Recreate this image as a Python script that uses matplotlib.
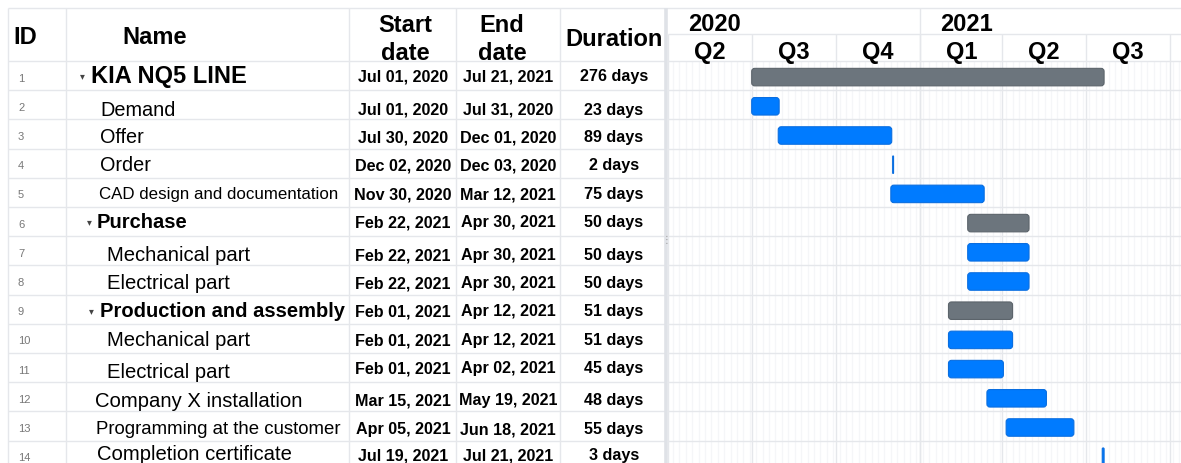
import numpy as np
import pandas as pd
import matplotlib
matplotlib.use("Agg")
import matplotlib.pyplot as plt
import matplotlib.dates as mdates
from matplotlib.patches import FancyBboxPatch

plt.rcParams['font.family'] = ['Liberation Sans', 'DejaVu Sans']

# DATA #
task_ids = list(range(1, 15))
task_names = ["KIA NQ5 LINE", "Demand", "Offer", "Order", "CAD design and documentation",
              "Purchase", "Mechanical part", "Electrical part", "Production and assembly",
              "Mechanical part", "Electrical part", "Company X installation",
              "Programming at the customer", "Completion certificate"]
start_dates = ["2020-07-01", "2020-07-01", "2020-07-30", "2020-12-02", "2020-11-30",
               "2021-02-22", "2021-02-22", "2021-02-22", "2021-02-01", "2021-02-01",
               "2021-02-01", "2021-03-15", "2021-04-05", "2021-07-19"]
end_dates = ["2021-07-21", "2020-07-31", "2020-12-01", "2020-12-03", "2021-03-12",
             "2021-04-30", "2021-04-30", "2021-04-30", "2021-04-12", "2021-04-12",
             "2021-04-02", "2021-05-19", "2021-06-18", "2021-07-21"]
durations = [276, 23, 89, 2, 75, 50, 50, 50, 51, 51, 45, 48, 55, 3]
is_parent = [True, False, False, False, False, True, False, False, True,
             False, False, False, False, False]
# END OF DATA #

# LAYOUT (pixels) #
W, H = 1181, 464
TOP, HEAD, MID = 9, 62, 35
ROW_H = 29.2
CHART_X = 668
col_lines = [66, 349, 456, 560]
PPD = 0.9153  # pixels per day on the timeline
view_start = pd.Timestamp("2020-04-01") - pd.Timedelta(days=0.44)
view_end = view_start + pd.Timedelta(days=(W - CHART_X) / PPD)

TXT_DY = 2.0  # va="center" sits a bit high for cap text
name_x = [91, 100, 100, 100, 99, 97, 107, 107, 100, 107, 107, 95, 96, 97]
name_size = [17, 14.3, 14.3, 14.3, 12.2, 14.5, 14.6, 14.6, 14.5, 14.6, 14.6, 14.6, 13.4, 14.6]
name_dy = [-1.6, 2.2, 1, -0.2, -0.4, -1.6, 2.2, 1, -0.2, -0.4, 2.4, 2.2, 1, -3.2]
date_dy = [-1.6, 2.2, 1, -0.2, -0.4, -1.6, 2.2, 1, -0.2, -0.4, -1.6, 1.2, 1, -2.2]
caret_x = {0: 82, 5: 89, 8: 91}
grid_col = "#e5e7eb"
minor_col = "#f5f6f8"
blue, blue_edge = "#007bff", "#0a6ee0"
gray, gray_edge = "#6c757d", "#5c646b"
# END OF LAYOUT #

n = len(task_names)
row_c = HEAD + ROW_H * (np.arange(n) + 0.5)
row_edges = HEAD + ROW_H * np.arange(n + 1)

fig = plt.figure(figsize=(W / 100, H / 100), dpi=100)
fig.patch.set_facecolor("white")

# table part
ax = fig.add_axes([0, 0, 1, 1])
ax.set_xlim(0, W)
ax.set_ylim(H, 0)
ax.axis("off")

ax.hlines(TOP, 8, W, color=grid_col, lw=1)
ax.hlines(HEAD, 8, 665, color=grid_col, lw=1)
ax.hlines(row_edges[1:], 8, 665, color=grid_col, lw=1)
ax.vlines([8] + col_lines, TOP, H, color=grid_col, lw=1)
ax.vlines(665.5, TOP, H, color="#dfe2e7", lw=2.6)
ax.text(666, 240, "⋮", fontsize=7, color="#999999", ha="center", va="center",
        family=["DejaVu Sans"])

hfs = 17
ax.text(13, MID + TXT_DY, "ID", fontsize=hfs, weight="bold", ha="left", va="center")
ax.text(155, MID + TXT_DY, "Name", fontsize=hfs, weight="bold", ha="center", va="center")
ax.text(405, 24 + TXT_DY, "Start", fontsize=hfs, weight="bold", ha="center", va="center")
ax.text(405, 52 + TXT_DY, "date", fontsize=hfs, weight="bold", ha="center", va="center")
ax.text(502, 24 + TXT_DY, "End", fontsize=hfs, weight="bold", ha="center", va="center")
ax.text(502, 52 + TXT_DY, "date", fontsize=hfs, weight="bold", ha="center", va="center")
ax.text(614, 38 + TXT_DY, "Duration", fontsize=hfs, weight="bold", ha="center", va="center")

def fmt(d):
    return pd.Timestamp(d).strftime("%b %d, %Y")

for i in range(n):
    y = row_c[i] + TXT_DY
    ax.text(18, y, str(task_ids[i]), fontsize=8, color="#777777", ha="left", va="center")
    ax.text(name_x[i], y + name_dy[i], task_names[i], fontsize=name_size[i],
            weight="bold" if is_parent[i] else "normal", ha="left", va="center")
    if i in caret_x:
        ax.text(caret_x[i], y + name_dy[i] - 1, "▾", fontsize=7, color="#444444",
                ha="center", va="center", family=["DejaVu Sans"])
    yd = y + date_dy[i]
    ax.text(403, yd, fmt(start_dates[i]), fontsize=11.6, weight="bold", ha="center", va="center")
    ax.text(508, yd, fmt(end_dates[i]), fontsize=11.6, weight="bold", ha="center", va="center")
    ax.text(614, yd, f"{durations[i]} days", fontsize=11.6, weight="bold", ha="center", va="center")

# gantt part
gx = fig.add_axes([CHART_X / W, 0, (W - CHART_X) / W, (H - TOP) / H])
gx.set_xlim(mdates.date2num(view_start), mdates.date2num(view_end))
gx.set_ylim(H, TOP)
gx.axis("off")

weeks = pd.date_range("2020-03-30", view_end, freq="7D")
gx.vlines(mdates.date2num(weeks), HEAD, H, color=minor_col, lw=0.9, zorder=0)

quarters = pd.date_range("2020-04-01", view_end, freq="QS")
qnum = mdates.date2num(quarters)
gx.vlines(qnum, MID, H, color=grid_col, lw=1, zorder=1)
years = [d for d in quarters if d.month == 1]
gx.vlines(mdates.date2num(years), TOP, H, color=grid_col, lw=1, zorder=1)
gx.hlines([MID, HEAD], mdates.date2num(view_start), mdates.date2num(view_end),
          color=grid_col, lw=1)
gx.hlines(row_edges[1:], mdates.date2num(view_start), mdates.date2num(view_end),
          color=grid_col, lw=1, zorder=1)

for q in quarters:
    q_end = q + pd.offsets.QuarterBegin(startingMonth=1)
    if q_end > view_end + pd.Timedelta(days=30):
        continue
    mid = q + (q_end - q) / 2
    gx.text(mdates.date2num(mid), 50 + TXT_DY, f"Q{q.quarter}", fontsize=hfs,
            weight="bold", ha="center", va="center")

for yr in [2020, 2021]:
    ys = max(pd.Timestamp(f"{yr}-01-01"), view_start)
    gx.text(mdates.date2num(ys) + 20 / PPD, 22 + TXT_DY, str(yr), fontsize=hfs,
            weight="bold", ha="left", va="center")

bar_h = 17.5
for i in range(n):
    s = mdates.date2num(pd.Timestamp(start_dates[i]))
    e = mdates.date2num(pd.Timestamp(end_dates[i]))
    w = e - s
    r_px = min(3.0, w * PPD / 2)
    fc, ec = (gray, gray_edge) if is_parent[i] else (blue, blue_edge)
    patch = FancyBboxPatch((s, row_c[i] + 1.5 - bar_h / 2), w, bar_h,
                           boxstyle=f"round,pad=0,rounding_size={r_px / PPD}",
                           mutation_aspect=PPD, fc=fc, ec=ec, lw=0.8, zorder=3)
    gx.add_patch(patch)

fig.savefig("out.png", dpi=100)
